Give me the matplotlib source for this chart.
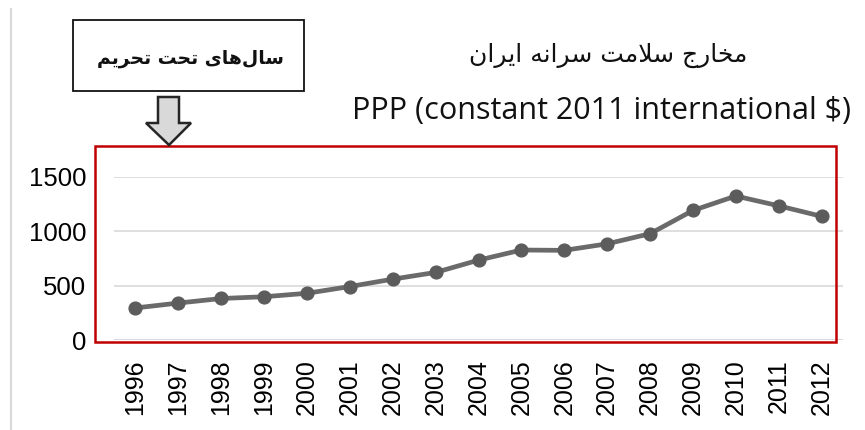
import matplotlib
matplotlib.use("Agg")
import matplotlib.pyplot as plt
from matplotlib.patches import Rectangle, Polygon
from matplotlib.lines import Line2D

# ---------------- data ----------------
years = ["1996", "1997", "1998", "1999", "2000", "2001", "2002", "2003", "2004",
         "2005", "2006", "2007", "2008", "2009", "2010", "2011", "2012"]
spending = [295, 340, 382, 398, 430, 492, 560, 622, 735,
            828, 825, 885, 978, 1192, 1325, 1235, 1138]
y_ticks = [0, 500, 1000, 1500]

title_fa = "مخارج سلامت سرانه ایران"
title_en = "PPP (constant 2011 international $)"
box_fa = "سال\u200cهای تحت تحریم"

# ---------------- simple Persian shaping (presentation forms + RTL order) ----------------
AR_FORMS = {
    # char: (isolated, final, initial, medial)
    '\u0627': ('\uFE8D', '\uFE8E', None, None),        # alef
    '\u062A': ('\uFE95', '\uFE96', '\uFE97', '\uFE98'),  # teh
    '\u062C': ('\uFE9D', '\uFE9E', '\uFE9F', '\uFEA0'),  # jeem
    '\u062D': ('\uFEA1', '\uFEA2', '\uFEA3', '\uFEA4'),  # hah
    '\u062E': ('\uFEA5', '\uFEA6', '\uFEA7', '\uFEA8'),  # khah
    '\u0631': ('\uFEAD', '\uFEAE', None, None),        # reh
    '\u0633': ('\uFEB1', '\uFEB2', '\uFEB3', '\uFEB4'),  # seen
    '\u0644': ('\uFEDD', '\uFEDE', '\uFEDF', '\uFEE0'),  # lam
    '\u0645': ('\uFEE1', '\uFEE2', '\uFEE3', '\uFEE4'),  # meem
    '\u0646': ('\uFEE5', '\uFEE6', '\uFEE7', '\uFEE8'),  # noon
    '\u0647': ('\uFEE9', '\uFEEA', '\uFEEB', '\uFEEC'),  # heh
    '\u06CC': ('\uFBFC', '\uFBFD', '\uFBFE', '\uFBFF'),  # farsi yeh
}


def _joins_next(c):
    return c in AR_FORMS and AR_FORMS[c][2] is not None


def shape_rtl(text):
    chars = list(text)
    n = len(chars)
    out = []
    i = 0
    while i < n:
        c = chars[i]
        if c not in AR_FORMS:
            if c != '\u200c':
                out.append(c)
            i += 1
            continue
        prev = chars[i - 1] if i > 0 else ''
        jp = _joins_next(prev)
        if c == '\u0644' and i + 1 < n and chars[i + 1] == '\u0627':
            out.append('\uFEFC' if jp else '\uFEFB')
            i += 2
            continue
        nxt = chars[i + 1] if i + 1 < n else ''
        jn = _joins_next(c) and nxt in AR_FORMS
        iso, fin, ini, med = AR_FORMS[c]
        if jp and jn:
            out.append(med)
        elif jp:
            out.append(fin)
        elif jn:
            out.append(ini)
        else:
            out.append(iso)
        i += 1
    return ''.join(reversed(out))


# ---------------- figure ----------------
W, H = 865, 430
fig = plt.figure(figsize=(W / 100, H / 100), dpi=100)
fig.patch.set_facecolor("white")


def fx(px):
    return px / W


def fy(py):
    return 1 - py / H


ax = fig.add_axes([fx(114), fy(340), fx(843) - fx(114), fy(177) - fy(340)])
x = list(range(len(years)))
ax.plot(x, spending, color="#6a6a6a", lw=3.4, marker="o", markersize=9.2,
        markerfacecolor="#5c5c5c", markeredgecolor="#5c5c5c", clip_on=False, zorder=3)

ax.set_xlim(-0.5, len(years) - 0.5)
ax.set_ylim(0, 1500)
ax.set_yticks(y_ticks)
ax.set_yticklabels([str(v) for v in y_ticks], fontsize=18.5, family="Liberation Sans")
ax.set_xticks(x)
ax.set_xticklabels(years, rotation=90, fontsize=18, family="Liberation Sans")
ax.tick_params(length=0, pad=20, axis="y")
ax.tick_params(length=0, pad=14, axis="x")
for s in ax.spines.values():
    s.set_visible(False)
ax.grid(axis="y", color="#d9d9d9", lw=1.2)
ax.set_axisbelow(True)
ax.axhline(0, color="#d9d9d9", lw=1.5, zorder=1)

# red frame
fig.add_artist(Rectangle((fx(95), fy(342)), fx(836) - fx(95), fy(146) - fy(342),
                         transform=fig.transFigure, fill=False, edgecolor="#c00000", lw=1.8))

# left grey border line
fig.add_artist(Line2D([fx(11), fx(11)], [fy(9), fy(430)], transform=fig.transFigure,
                      color="#d9d9d9", lw=1.5))

# titles
fig.text(fx(608), fy(62), shape_rtl(title_fa), ha="center", va="baseline",
         fontsize=18, family="DejaVu Sans", color="#111111")
fig.text(fx(602), fy(119), title_en, ha="center", va="baseline",
         fontsize=22, family="Open Sans", color="#111111")

# box with text
fig.add_artist(Rectangle((fx(73), fy(91)), fx(304) - fx(73), fy(20) - fy(91),
                         transform=fig.transFigure, fill=True, facecolor="white",
                         edgecolor="#111111", lw=1.3))
fig.text(fx(190), fy(64), shape_rtl(box_fa), ha="center", va="baseline",
         fontsize=13.5, family="DejaVu Sans", fontweight="bold", color="#111111")

# block arrow
arrow_px = [(158, 97), (179, 97), (179, 123), (191, 123), (169, 145),
            (146, 123), (158, 123)]
fig.add_artist(Polygon([(fx(a), fy(b)) for a, b in arrow_px], closed=True,
                       transform=fig.transFigure, facecolor="#d9d9d9",
                       edgecolor="#262626", lw=1.8, joinstyle="miter"))

fig.savefig("out.png", dpi=100, facecolor="white")
